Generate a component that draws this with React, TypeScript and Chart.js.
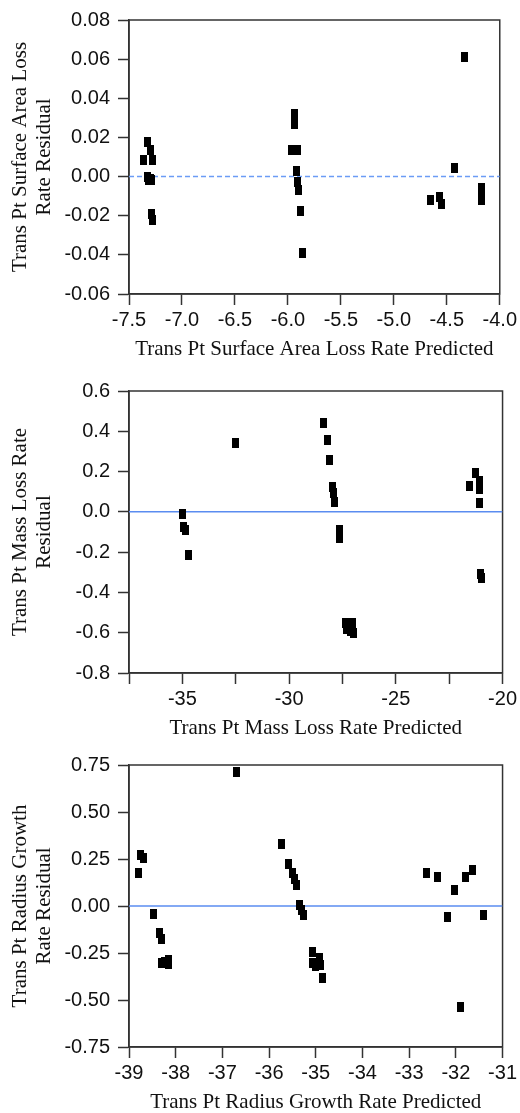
import React, { useEffect, useRef } from 'react';
import { Chart, registerables } from 'chart.js';

Chart.register(...registerables);

// Panel 1: Surface area loss rate
const surfPredicted = [
  -7.329, -7.297, -7.36, -7.276, -7.33, -7.30, -7.29, -7.32, -7.29, -7.28,
  -5.941, -5.941, -5.963, -5.907, -5.915, -5.91, -5.90, -5.88, -5.86,
  -4.336, -4.429, -4.656, -4.569, -4.55, -4.177, -4.177, -4.177,
];
const surfResidual = [
  0.0175, 0.0135, 0.0085, 0.0085, 0.0, -0.001, -0.002, -0.002, -0.019, -0.022,
  0.032, 0.027, 0.0138, 0.0138, 0.0028, -0.003, -0.007, -0.0177, -0.039,
  0.061, 0.0045, -0.0121, -0.0105, -0.014, -0.006, -0.009, -0.012,
];

// Panel 2: Mass loss rate
const massPredicted = [
  -34.98, -34.95, -34.85, -34.7, -32.5,
  -28.38, -28.19, -28.12, -27.95, -27.93, -27.85, -27.66, -27.66,
  -27.35, -27.2, -27.05, -27.3, -27.1, -27.0,
  -21.55, -21.27, -21.08, -21.08, -21.08, -21.05, -21.0,
];
const massResidual = [
  -0.013, -0.077, -0.09, -0.215, 0.342,
  0.44, 0.357, 0.258, 0.125, 0.095, 0.047, -0.09, -0.13,
  -0.55, -0.56, -0.55, -0.58, -0.59, -0.6,
  0.13, 0.194, 0.155, 0.115, 0.045, -0.31, -0.33,
];

// Panel 3: Radius growth rate
const radiusPredicted = [
  -36.7, -38.79, -38.755, -38.70, -38.47, -38.34, -38.30, -38.31, -38.16, -38.16, -38.23,
  -35.74, -35.58, -35.5, -35.46, -35.42, -35.35, -35.31, -35.27,
  -35.06, -35.06, -34.93, -34.9, -35.01, -34.86,
  -32.62, -32.39, -32.17, -32.02, -31.9, -31.79, -31.65, -31.41,
];
const radiusResidual = [
  0.714, 0.174, 0.27, 0.255, -0.044, -0.144, -0.178, -0.303, -0.287, -0.31, -0.298,
  0.331, 0.226, 0.174, 0.144, 0.113, 0.005, -0.019, -0.046,
  -0.245, -0.303, -0.277, -0.314, -0.319, -0.385,
  0.174, 0.154, -0.057, 0.085, -0.536, 0.154, 0.191, -0.048,
];

const SANS = '"Liberation Sans", Arial, sans-serif';
const SERIF = '"Liberation Serif", "Times New Roman", serif';

function makeMarker() {
  const c = document.createElement('canvas');
  c.width = 7;
  c.height = 10;
  const ctx = c.getContext('2d');
  if (ctx) {
    ctx.fillStyle = '#000';
    ctx.fillRect(0, 0, 7, 10);
  }
  return c;
}

const boxPlugin = {
  id: 'boxPlugin',
  beforeDatasetsDraw(chart: any) {
    const { ctx, chartArea } = chart;
    ctx.save();
    ctx.strokeStyle = '#333';
    ctx.lineWidth = 1.5;
    ctx.strokeRect(chartArea.left, chartArea.top, chartArea.right - chartArea.left, chartArea.bottom - chartArea.top);
    ctx.restore();
  },
};

type PanelProps = {
  xs: number[];
  ys: number[];
  xMin: number; xMax: number; xStep: number;
  yMin: number; yMax: number; yStep: number;
  xFmt: (v: number) => string;
  yFmt: (v: number) => string;
  xTitle: string;
  yTitle: string[];
  dashed: boolean;
  height: number;
  padTop: number;
};

function Panel(p: PanelProps) {
  const ref = useRef<HTMLCanvasElement | null>(null);
  useEffect(() => {
    if (!ref.current) return;
    const marker = makeMarker();
    const points = p.xs.map((x, i) => ({ x, y: p.ys[i] }));
    const chart = new Chart(ref.current, {
      type: 'scatter',
      data: {
        datasets: [
          {
            type: 'scatter',
            data: points,
            pointStyle: marker as any,
            pointRadius: 4,
            backgroundColor: '#000',
            borderColor: '#000',
          } as any,
          {
            type: 'line',
            data: [{ x: p.xMin, y: 0 }, { x: p.xMax, y: 0 }],
            borderColor: p.dashed ? '#6b9cf5' : '#5a8cf0',
            borderWidth: 1.5,
            borderDash: p.dashed ? [5, 3] : [],
            pointRadius: 0,
            fill: false,
          } as any,
        ],
      },
      options: {
        responsive: false,
        animation: false,
        devicePixelRatio: 1,
        layout: { padding: { top: p.padTop, right: 16, left: 0, bottom: 0 } },
        plugins: { legend: { display: false }, tooltip: { enabled: false } },
        scales: {
          x: {
            type: 'linear',
            min: p.xMin,
            max: p.xMax,
            afterFit: (s: any) => { s.height = 66; },
            grid: { drawOnChartArea: false, drawTicks: true, tickLength: 11, tickColor: '#333', tickWidth: 1.5 },
            border: { display: true, color: '#333', width: 1.5 },
            ticks: {
              stepSize: p.xStep,
              autoSkip: false,
              maxRotation: 0,
              padding: 3,
              color: '#111',
              font: { family: SANS, size: 20 },
              callback: (v: any) => p.xFmt(Number(v)),
            },
            title: {
              display: true,
              text: p.xTitle,
              color: '#111',
              font: { family: SERIF, size: 21, lineHeight: 1.15 },
              padding: { top: 0, bottom: -2 },
            },
          },
          y: {
            type: 'linear',
            min: p.yMin,
            max: p.yMax,
            afterFit: (s: any) => { s.width = 129; },
            grid: { drawOnChartArea: false, drawTicks: true, tickLength: 11, tickColor: '#333', tickWidth: 1.5 },
            border: { display: true, color: '#333', width: 1.5 },
            ticks: {
              stepSize: p.yStep,
              autoSkip: false,
              padding: 8,
              color: '#111',
              font: { family: SANS, size: 20 },
              callback: (v: any) => p.yFmt(Number(v)),
            },
            title: {
              display: true,
              text: p.yTitle,
              color: '#111',
              font: { family: SERIF, size: 21, lineHeight: 1.15 },
              padding: { top: 8, bottom: 0 },
            },
          },
        },
      } as any,
      plugins: [boxPlugin],
    });
    return () => chart.destroy();
  }, []);
  return <canvas ref={ref} width={520} height={p.height} style={{ display: 'block', width: 520, height: p.height }} />;
}

const fmt = (d: number) => (v: number) => {
  const r = Math.abs(v) < 1e-9 ? 0 : v;
  return r.toFixed(d);
};
const fmtEvery5 = (v: number) => {
  const r = Math.round(v);
  if (Math.abs(v - r) > 1e-6 || r % 5 !== 0) return '';
  return String(r);
};

export default function App() {
  return (
    <div style={{ position: 'absolute', left: 0, top: 0, width: 520, height: 1113, background: '#fff' }}>
      <Panel
        xs={surfPredicted} ys={surfResidual}
        xMin={-7.5} xMax={-4.0} xStep={0.5}
        yMin={-0.06} yMax={0.08} yStep={0.02}
        xFmt={fmt(1)} yFmt={fmt(2)}
        xTitle="Trans Pt Surface Area Loss Rate Predicted"
        yTitle={['Trans Pt Surface Area Loss', 'Rate Residual']}
        dashed={true} height={360} padTop={13}
      />
      <Panel
        xs={massPredicted} ys={massResidual}
        xMin={-37.5} xMax={-20} xStep={2.5}
        yMin={-0.8} yMax={0.6} yStep={0.2}
        xFmt={fmtEvery5} yFmt={fmt(1)}
        xTitle="Trans Pt Mass Loss Rate Predicted"
        yTitle={['Trans Pt Mass Loss Rate', 'Residual']}
        dashed={false} height={379} padTop={31}
      />
      <Panel
        xs={radiusPredicted} ys={radiusResidual}
        xMin={-39} xMax={-31} xStep={1}
        yMin={-0.75} yMax={0.75} yStep={0.25}
        xFmt={fmt(0)} yFmt={fmt(2)}
        xTitle="Trans Pt Radius Growth Rate Predicted"
        yTitle={['Trans Pt Radius Growth', 'Rate Residual']}
        dashed={false} height={374} padTop={26}
      />
    </div>
  );
}
